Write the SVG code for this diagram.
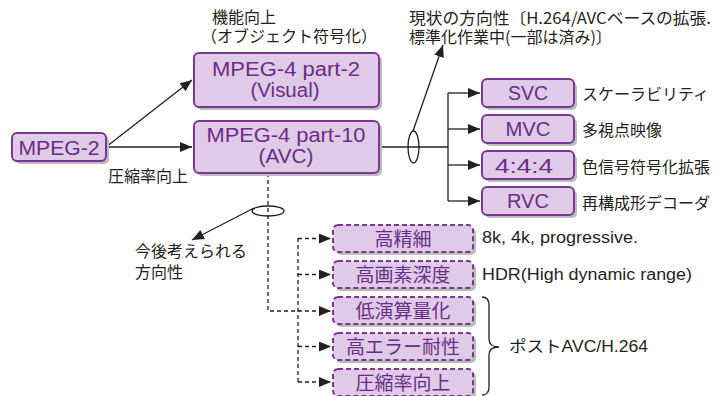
<svg xmlns="http://www.w3.org/2000/svg" width="724" height="396" viewBox="0 0 724 396">
<defs>
<style>
.sh{fill:#bcbcbc}
.box{fill:#dfcae7;stroke:#7b3594;stroke-width:2}
.dbox{fill:#dfcae7;stroke:#7b3594;stroke-width:2;stroke-dasharray:5 3}
.bt{fill:#6b2c87;font-family:"Liberation Sans","Noto Sans CJK JP",sans-serif;font-size:20px;text-anchor:middle}
.jt{fill:#6b2c87;font-family:"Noto Sans CJK JP",sans-serif;font-size:19px;text-anchor:middle}
.lbl{fill:#231f20;font-family:"Noto Sans CJK JP",sans-serif;font-size:16px}
.lat{fill:#231f20;font-family:"Liberation Sans","Noto Sans CJK JP",sans-serif;font-size:16px}
.ln{stroke:#231f20;stroke-width:1.3;fill:none}
.dl{stroke-dasharray:4 3}
</style>
<marker id="ah" markerUnits="userSpaceOnUse" markerWidth="13" markerHeight="11" refX="12" refY="5" orient="auto">
<path d="M0,0 L12,5 L0,10 z" fill="#231f20"/>
</marker>
</defs>

<g id="connectors">
<line class="ln" x1="106" y1="147" x2="192" y2="80" marker-end="url(#ah)"/>
<line class="ln" x1="106" y1="147" x2="192" y2="147" marker-end="url(#ah)"/>
<line class="ln" x1="379" y1="147" x2="448" y2="147"/>
<line class="ln" x1="448" y1="93" x2="448" y2="201"/>
<line class="ln" x1="448" y1="93" x2="480" y2="93" marker-end="url(#ah)"/>
<line class="ln" x1="448" y1="129" x2="480" y2="129" marker-end="url(#ah)"/>
<line class="ln" x1="448" y1="165" x2="480" y2="165" marker-end="url(#ah)"/>
<line class="ln" x1="448" y1="201" x2="480" y2="201" marker-end="url(#ah)"/>
<ellipse class="ln" cx="413.5" cy="147" rx="5.5" ry="16"/>
<line class="ln" x1="413" y1="131" x2="443" y2="45" marker-end="url(#ah)"/>
<path class="ln dl" d="M268,173 L268,311 L331,311" marker-end="url(#ah)"/>
<line class="ln dl" x1="298" y1="238" x2="298" y2="382"/>
<line class="ln dl" x1="298" y1="238.5" x2="331" y2="238.5" marker-end="url(#ah)"/>
<line class="ln dl" x1="298" y1="274.5" x2="331" y2="274.5" marker-end="url(#ah)"/>
<line class="ln dl" x1="298" y1="346.5" x2="331" y2="346.5" marker-end="url(#ah)"/>
<line class="ln dl" x1="298" y1="382" x2="331" y2="382" marker-end="url(#ah)"/>
<ellipse class="ln" cx="268" cy="211" rx="16" ry="5"/>
<line class="ln" x1="254" y1="208" x2="192" y2="240" marker-end="url(#ah)"/>
<path class="ln" d="M482,297 Q489,297 489,305 L489,339 Q489,347 499,347 Q489,347 489,355 L489,387 Q489,395 482,395"/>
</g>

<g id="mpeg2">
<rect class="sh" x="15" y="136" width="94" height="28" rx="5"/>
<rect class="box" x="12" y="133" width="94" height="28" rx="5"/>
<text class="bt" x="59" y="155" textLength="81" lengthAdjust="spacingAndGlyphs">MPEG-2</text>
</g>

<g id="part2">
<rect class="sh" x="197" y="56" width="185" height="54" rx="5"/>
<rect class="box" x="194" y="53" width="185" height="54" rx="5"/>
<text class="bt" x="286" y="76" textLength="148" lengthAdjust="spacingAndGlyphs">MPEG-4 part-2</text>
<text class="bt" x="285" y="97" textLength="69" lengthAdjust="spacingAndGlyphs">(Visual)</text>
</g>

<g id="part10">
<rect class="sh" x="197" y="124" width="185" height="52" rx="5"/>
<rect class="box" x="194" y="121" width="185" height="52" rx="5"/>
<text class="bt" x="286" y="142" textLength="159" lengthAdjust="spacingAndGlyphs">MPEG-4 part-10</text>
<text class="bt" x="286" y="163" textLength="55" lengthAdjust="spacingAndGlyphs">(AVC)</text>
</g>

<g id="svc">
<rect class="sh" x="485" y="82" width="92" height="28" rx="5"/>
<rect class="box" x="482" y="79" width="92" height="28" rx="5"/>
<text class="bt" x="528" y="100" textLength="40" lengthAdjust="spacingAndGlyphs">SVC</text>
<text class="lbl" x="582" y="100">スケーラビリティ</text>
</g>
<g id="mvc">
<rect class="sh" x="485" y="118" width="92" height="28" rx="5"/>
<rect class="box" x="482" y="115" width="92" height="28" rx="5"/>
<text class="bt" x="528" y="136" textLength="45" lengthAdjust="spacingAndGlyphs">MVC</text>
<text class="lbl" x="582" y="136">多視点映像</text>
</g>
<g id="c444">
<rect class="sh" x="485" y="154" width="92" height="28" rx="5"/>
<rect class="box" x="482" y="151" width="92" height="28" rx="5"/>
<text class="bt" x="524" y="173" textLength="58" lengthAdjust="spacingAndGlyphs">4:4:4</text>
<text class="lbl" x="582" y="173">色信号符号化拡張</text>
</g>
<g id="rvc">
<rect class="sh" x="485" y="190" width="92" height="28" rx="5"/>
<rect class="box" x="482" y="187" width="92" height="28" rx="5"/>
<text class="bt" x="528" y="208" textLength="42" lengthAdjust="spacingAndGlyphs">RVC</text>
<text class="lbl" x="582" y="209">再構成形デコーダ</text>
</g>

<g id="hd">
<rect class="sh" x="336" y="228" width="140" height="27" rx="5"/>
<rect class="dbox" x="333" y="225" width="140" height="27" rx="5"/>
<text class="jt" x="403" y="246">高精細</text>
</g>
<g id="depth">
<rect class="sh" x="336" y="264" width="140" height="27" rx="5"/>
<rect class="dbox" x="333" y="261" width="140" height="27" rx="5"/>
<text class="jt" x="403" y="282">高画素深度</text>
</g>
<g id="lowcalc">
<rect class="sh" x="336" y="300" width="140" height="27" rx="5"/>
<rect class="dbox" x="333" y="297" width="140" height="27" rx="5"/>
<text class="jt" x="403" y="318">低演算量化</text>
</g>
<g id="errres">
<rect class="sh" x="336" y="336" width="140" height="27" rx="5"/>
<rect class="dbox" x="333" y="333" width="140" height="27" rx="5"/>
<text class="jt" x="403" y="354">高エラー耐性</text>
</g>
<g id="compr">
<rect class="sh" x="336" y="372" width="140" height="27" rx="5"/>
<rect class="dbox" x="333" y="369" width="140" height="27" rx="5"/>
<text class="jt" x="403" y="390">圧縮率向上</text>
</g>

<g id="labels">
<text class="lbl" x="212" y="23">機能向上</text>
<text class="lbl" x="201" y="42">（オブジェクト符号化）</text>
<text class="lbl" x="108" y="182">圧縮率向上</text>
<text class="lbl" x="409" y="24" textLength="302" lengthAdjust="spacingAndGlyphs">現状の方向性〔H.264/AVCベースの拡張.</text>
<text class="lbl" x="409" y="43">標準化作業中(一部は済み)〕</text>
<text class="lbl" x="135" y="257">今後考えられる</text>
<text class="lbl" x="135" y="278">方向性</text>
<text class="lat" x="482" y="243" textLength="156" lengthAdjust="spacingAndGlyphs">8k, 4k, progressive.</text>
<text class="lat" x="482" y="280" textLength="210" lengthAdjust="spacingAndGlyphs">HDR(High dynamic range)</text>
<text class="lat" x="509" y="352" textLength="139" lengthAdjust="spacingAndGlyphs">ポストAVC/H.264</text>
</g>
</svg>
